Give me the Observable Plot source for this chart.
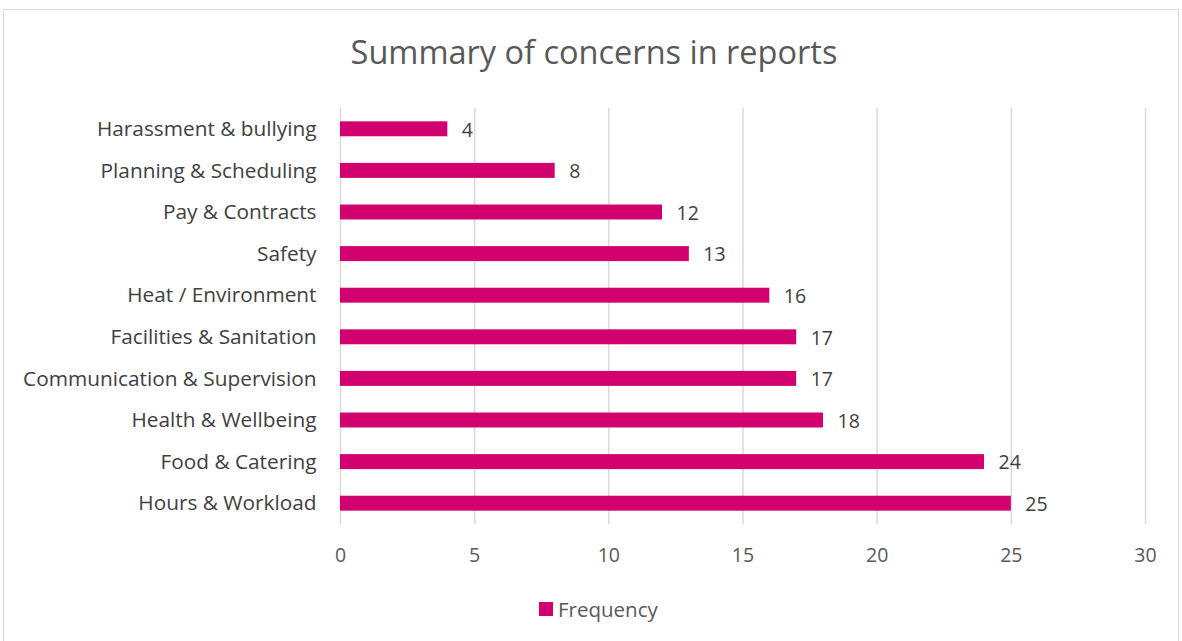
<!DOCTYPE html>
<html>
<head>
<meta charset="utf-8">
<script src="https://cdn.jsdelivr.net/npm/d3@7"></script>
<script src="https://cdn.jsdelivr.net/npm/@observablehq/plot@0.6"></script>
<style>
  html, body { margin: 0; padding: 0; background: #fff; }
  #wrap { position: relative; width: 1182px; height: 641px; overflow: hidden; font-family: "Open Sans", sans-serif; }
  #frame { position: absolute; left: 3px; top: 9px; width: 1176px; height: 640px; border: 1px solid #d9d9d9; box-sizing: border-box; }
  #title { position: absolute; left: 0; width: 1188px; top: 29px; text-align: center; font-size: 32.5px; color: #595959; }
  #chart { position: absolute; left: 0; top: 0; }
  #legend { position: absolute; top: 595px; left: 539px; font-size: 20.5px; color: #595959; display: flex; align-items: center; }
  #legend span.sw { display: inline-block; width: 14px; height: 14px; background: #D3006F; margin-right: 5px; }
</style>
</head>
<body>
<div id="wrap">
  <div id="frame"></div>
  <div id="title">Summary of concerns in reports</div>
  <div id="chart"></div>
  <div id="legend"><span class="sw"></span><span>Frequency</span></div>
</div>
<script>
const categories = [
  "Harassment & bullying",
  "Planning & Scheduling",
  "Pay & Contracts",
  "Safety",
  "Heat / Environment",
  "Facilities & Sanitation",
  "Communication & Supervision",
  "Health & Wellbeing",
  "Food & Catering",
  "Hours & Workload"
];
const frequency = [4, 8, 12, 13, 16, 17, 17, 18, 24, 25];
const xTicks = [0, 5, 10, 15, 20, 25, 30];

const data = categories.map((c, i) => ({category: c, value: frequency[i]}));

const chart = Plot.plot({
  width: 1182,
  height: 641,
  marginTop: 108,
  marginBottom: 117,
  marginLeft: 340,
  marginRight: 37,
  style: {fontFamily: "'Open Sans', sans-serif", fontSize: "19.5px", color: "#595959", background: "transparent"},
  x: {domain: [0, 30], ticks: xTicks, label: null, tickSize: 0, tickPadding: 24},
  y: {domain: categories, paddingInner: 0.64, paddingOuter: 0.32, round: false, label: null, tickSize: 0, tickPadding: 24},
  marks: [
    Plot.ruleX(xTicks, {stroke: "#d9d9d9", strokeWidth: 1.5}),
    Plot.barX(data, {x: "value", y: "category", fill: "#D3006F"}),
    Plot.text(data, {x: "value", y: "category", text: d => String(d.value), textAnchor: "start", dx: 14, dy: 1, fill: "#404040", fontSize: 19.5}),
    Plot.axisX({ticks: xTicks, tickSize: 0, tickPadding: 24, fontSize: 19.5, fill: "#595959"}),
    Plot.axisY({tickSize: 0, tickPadding: 24, fontSize: 20.8, fill: "#404040"})
  ]
});
document.getElementById("chart").appendChild(chart);
</script>
</body>
</html>
